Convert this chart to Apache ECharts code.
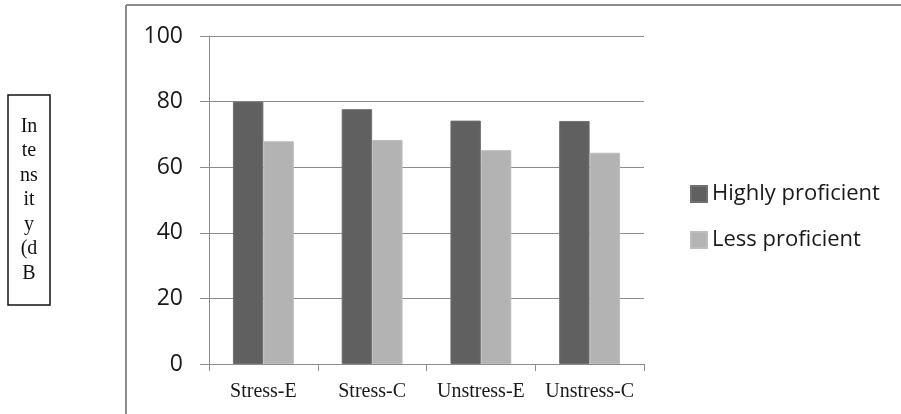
<!DOCTYPE html>
<html>
<head>
<meta charset="utf-8">
<script src="https://cdn.jsdelivr.net/npm/echarts@6/dist/echarts.min.js"></script>
<style>
  html, body { margin: 0; padding: 0; background: #fff; }
  #chart { width: 901px; height: 414px; }
</style>
</head>
<body>
<div id="chart"></div>
<script>
// Intensity (dB) by condition, two proficiency groups.
const categories = ['Stress-E', 'Stress-C', 'Unstress-E', 'Unstress-C']
const highlyProficient = [80, 77.7, 74.2, 74.1]
const lessProficient = [67.9, 68.3, 65.2, 64.4]
const yTicks = { min: 0, max: 100, interval: 20 }

const chart = echarts.init(document.getElementById('chart'))

chart.setOption({
  backgroundColor: '#fff',
  animation: false,
  grid: { left: 209, right: 257, top: 36, bottom: 50 },
  legend: {
    orient: 'vertical',
    left: 685,
    top: 178,
    itemWidth: 16,
    itemHeight: 16,
    itemGap: 24,
    icon: 'rect',
    textStyle: { fontFamily: 'Open Sans', fontSize: 22, color: '#1a1a1a' },
    data: ['Highly proficient', 'Less proficient'],
  },
  xAxis: {
    type: 'category',
    data: categories,
    axisLine: { lineStyle: { color: '#8c8c8c', width: 1 } },
    axisTick: { show: true, length: 7, lineStyle: { color: '#8c8c8c' } },
    axisLabel: {
      interval: 0,
      fontFamily: 'Liberation Serif',
      fontSize: 20,
      color: '#1a1a1a',
      margin: 18,
    },
  },
  yAxis: {
    type: 'value',
    ...yTicks,
    axisLine: { show: true, lineStyle: { color: '#8c8c8c', width: 1 } },
    axisTick: { show: true, length: 9, lineStyle: { color: '#8c8c8c' } },
    splitLine: { lineStyle: { color: '#8c8c8c', width: 1 } },
    axisLabel: { fontFamily: 'Open Sans', fontSize: 23, color: '#1a1a1a', margin: 26 },
  },
  series: [
    {
      name: 'Highly proficient',
      type: 'bar',
      data: highlyProficient,
      barGap: '0%',
      barCategoryGap: '44%',
      itemStyle: { color: '#606060', borderColor: '#707070', borderWidth: 1 },
    },
    {
      name: 'Less proficient',
      type: 'bar',
      data: lessProficient,
      barGap: '0%',
      barCategoryGap: '44%',
      itemStyle: { color: '#b3b3b3', borderColor: '#bdbdbd', borderWidth: 1 },
    },
  ],
  graphic: [
    // outer chart frame (cut off at right and bottom)
    { type: 'line', shape: { x1: 126, y1: 5, x2: 901, y2: 5 }, style: { stroke: '#8c8c8c', lineWidth: 2 } },
    { type: 'line', shape: { x1: 126, y1: 5, x2: 126, y2: 414 }, style: { stroke: '#8c8c8c', lineWidth: 2 } },
    // boxed y-axis title
    { type: 'rect', shape: { x: 8, y: 95, width: 42, height: 210 }, style: { fill: '#fff', stroke: '#111', lineWidth: 1.5 } },
    {
      type: 'text',
      x: 29,
      y: 200,
      style: {
        text: 'In\nte\nns\nit\ny\n(d\nB',
        fontFamily: 'Liberation Serif',
        fontSize: 20,
        lineHeight: 24.5,
        fill: '#111',
        align: 'center',
        verticalAlign: 'middle',
      },
    },
  ],
})
</script>
</body>
</html>
